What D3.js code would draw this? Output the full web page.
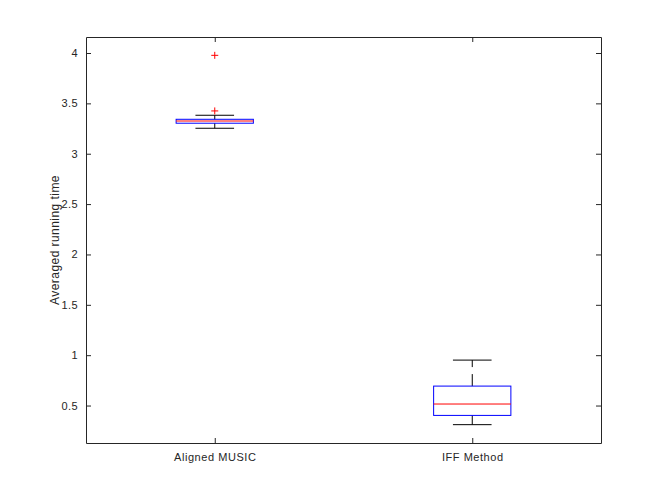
<!DOCTYPE html>
<meta charset="utf-8">
<style>
    body { margin: 0; background: #fff; }
    text { font-family: "Liberation Sans", Arial, sans-serif; fill: #262626; }
    .axis path, .axis line { stroke: #262626; }
</style>
<body>
<script src="https://d3js.org/d3.v7.min.js"></script>
<script>

    // box plot statistics
    var categories = ["Aligned MUSIC", "IFF Method"],
        q1 = [3.303, 0.402],
        median = [3.325, 0.515],
        q3 = [3.342, 0.693],
        whiskerLow = [3.253, 0.31],
        whiskerHigh = [3.382, 0.951],
        outliers = [[3.977, 3.425], []];

    var yTicks = [0.5, 1, 1.5, 2, 2.5, 3, 3.5, 4];

    var margin = {top: 37, right: 63, bottom: 55, left: 86},
        width = 664 - margin.left - margin.right,
        height = 498 - margin.top - margin.bottom;

    var x = d3.scaleLinear().domain([0.5, 2.5]).range([0, width]);
    var y = d3.scaleLinear().domain([0.128, 4.159]).range([height, 0]);

    var svg = d3.select("body").append("svg")
            .attr("width", 664)
            .attr("height", 498);

    var g = svg.append("g")
            .attr("transform", "translate(" + margin.left + "," + margin.top + ")");

    var data = categories.map(function(c, i) {
        return {name: c, pos: i + 1, q1: q1[i], med: median[i], q3: q3[i],
                lo: whiskerLow[i], hi: whiskerHigh[i], out: outliers[i]};
    });

    var boxW = x(1.15) - x(0.85),
        capW = x(1.075) - x(0.925);

    // axes (MATLAB style: ticks inside, mirrored box)
    var xAxis = d3.axisBottom(x).tickValues([1, 2])
            .tickFormat(function(d) { return categories[d - 1]; })
            .tickSizeInner(-5).tickSizeOuter(0).tickPadding(10);
    var yAxis = d3.axisLeft(y).tickValues(yTicks)
            .tickFormat(d3.format("~g"))
            .tickSizeInner(-5).tickSizeOuter(0).tickPadding(8);

    g.append("g").attr("class", "x axis")
            .attr("transform", "translate(0," + height + ")")
            .call(xAxis)
        .selectAll("text").style("font-size", "11px").style("letter-spacing", "0.55px");
    g.append("g").attr("class", "y axis")
            .call(yAxis)
        .selectAll("text").style("font-size", "11px").style("letter-spacing", "0.4px");

    g.append("g").attr("class", "axis")
            .call(d3.axisTop(x).tickValues([1, 2]).tickFormat("").tickSizeInner(-5).tickSizeOuter(0));
    g.append("g").attr("class", "axis")
            .attr("transform", "translate(" + width + ",0)")
            .call(d3.axisRight(y).tickValues(yTicks).tickFormat("").tickSizeInner(-5).tickSizeOuter(0));

    g.selectAll(".axis path").attr("stroke-width", 1);

    g.append("text")
            .attr("transform", "rotate(-90)")
            .attr("x", -height / 2)
            .attr("y", -27)
            .style("text-anchor", "middle")
            .style("font-size", "12px")
            .style("letter-spacing", "0.45px")
            .text("Averaged running time");

    var box = g.selectAll("g.box").data(data).enter().append("g")
            .attr("class", "box");

    // whiskers (dashed, drawn outward from the box)
    box.append("line")
            .attr("x1", function(d) { return x(d.pos); })
            .attr("x2", function(d) { return x(d.pos); })
            .attr("y1", function(d) { return y(d.q3); })
            .attr("y2", function(d) { return y(d.hi); })
            .attr("stroke", "#000").attr("stroke-dasharray", "12,7");
    box.append("line")
            .attr("x1", function(d) { return x(d.pos); })
            .attr("x2", function(d) { return x(d.pos); })
            .attr("y1", function(d) { return y(d.q1); })
            .attr("y2", function(d) { return y(d.lo); })
            .attr("stroke", "#000").attr("stroke-dasharray", "12,7");

    // caps
    box.selectAll("line.cap").data(function(d) { return [[d.pos, d.hi], [d.pos, d.lo]]; })
        .enter().append("line")
            .attr("class", "cap")
            .attr("x1", function(d) { return x(d[0]) - capW / 2; })
            .attr("x2", function(d) { return x(d[0]) + capW / 2; })
            .attr("y1", function(d) { return y(d[1]); })
            .attr("y2", function(d) { return y(d[1]); })
            .attr("stroke", "#000");

    box.append("rect")
            .attr("x", function(d) { return x(d.pos) - boxW / 2; })
            .attr("y", function(d) { return y(d.q3); })
            .attr("width", boxW)
            .attr("height", function(d) { return y(d.q1) - y(d.q3); })
            .attr("fill", "none")
            .attr("stroke", "#0000ff");

    box.append("line")
            .attr("x1", function(d) { return x(d.pos) - boxW / 2; })
            .attr("x2", function(d) { return x(d.pos) + boxW / 2; })
            .attr("y1", function(d) { return y(d.med); })
            .attr("y2", function(d) { return y(d.med); })
            .attr("stroke", "#ff0000");

    // outliers as red plus signs
    box.selectAll("path.out").data(function(d) {
            return d.out.map(function(v) { return [d.pos, v]; });
        })
        .enter().append("path")
            .attr("class", "out")
            .attr("d", function(d) {
                var cx = x(d[0]), cy = y(d[1]), r = 3.5;
                return "M" + (cx - r) + "," + cy + "H" + (cx + r) +
                       "M" + cx + "," + (cy - r) + "V" + (cy + r);
            })
            .attr("stroke", "#ff0000")
            .attr("fill", "none");

</script>
</body>
